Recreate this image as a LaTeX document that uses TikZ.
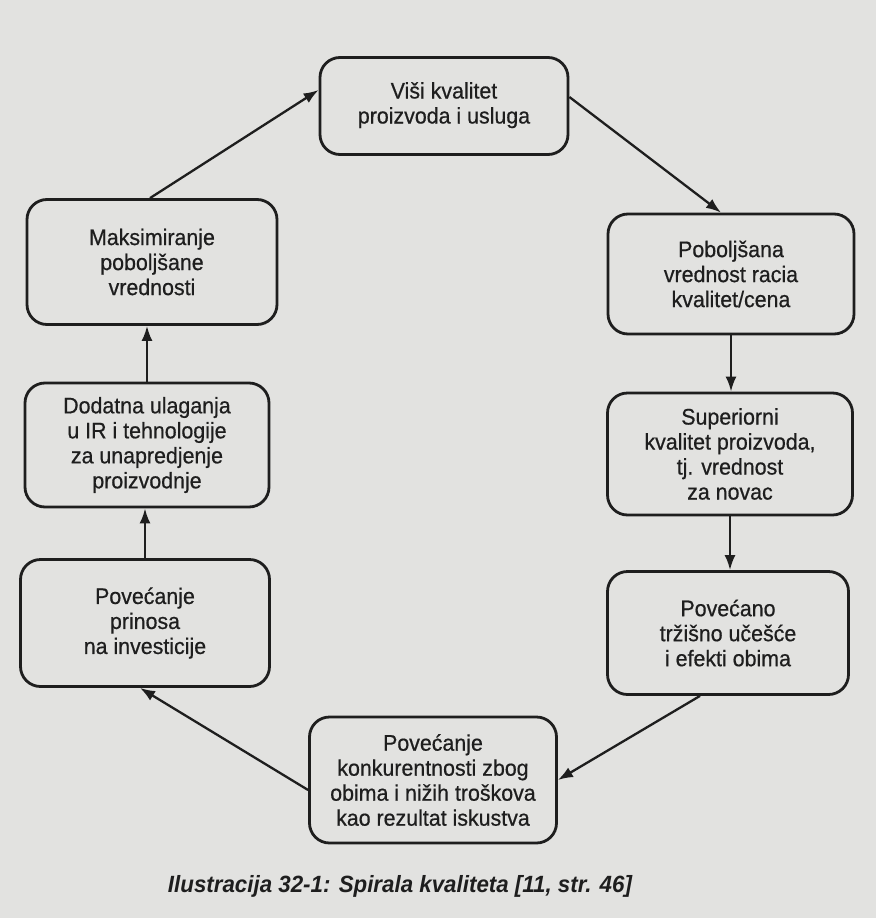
\documentclass[tikz,border=0pt]{standalone}
\usepackage{fontspec}
\setmainfont{Liberation Sans}
\newfontfamily\boxfont[FakeStretch=0.95,FakeBold=0.6]{Liberation Sans}
\newfontfamily\capfont[FakeStretch=0.95]{Liberation Sans}
\usetikzlibrary{arrows.meta}
\definecolor{paper}{RGB}{226,226,224}
\definecolor{ink}{RGB}{30,30,30}
\tikzset{
  stage/.style={draw=ink, line width=2.8pt, rounded corners=20pt, fill=paper,
    align=center, inner sep=4pt, text=ink,
    font=\boxfont\fontsize{22.5}{25}\selectfont},
  link/.style={draw=ink, line width=2.3pt, -{Latex[length=15pt,width=11pt]}}
}
\begin{document}
\begin{tikzpicture}[x=1pt,y=-1pt]
\fill[paper] (0,0) rectangle (876,918);
\useasboundingbox (0,0) rectangle (876,918);
\node[stage, minimum width=248pt, minimum height=97pt] (top) at (444,106) {\raisebox{-8pt}{\begin{tabular}{@{}c@{}}Viši kvalitet\\proizvoda i usluga\end{tabular}}};
\node[stage, minimum width=246pt, minimum height=120pt] (r1) at (731,274) {Poboljšana\\vrednost racia\\kvalitet/cena};
\node[stage, minimum width=245pt, minimum height=122pt] (r2) at (730,454) {Superiorni\\kvalitet proizvoda,\\tj. vrednost\\za novac};
\node[stage, minimum width=241pt, minimum height=123pt] (r3) at (728,633) {Povećano\\tržišno učešće\\i efekti obima};
\node[stage, minimum width=247pt, minimum height=126pt] (bot) at (433,780) {Povećanje\\konkurentnosti zbog\\obima i nižih troškova\\kao rezultat iskustva};
\node[stage, minimum width=249pt, minimum height=127pt] (l3) at (145,623) {Povećanje\\prinosa\\na investicije};
\node[stage, minimum width=244pt, minimum height=124pt] (l2) at (147,445) {Dodatna ulaganja\\u IR i tehnologije\\za unapredjenje\\proizvodnje};
\node[stage, minimum width=250pt, minimum height=125pt] (l1) at (152,262) {Maksimiranje\\poboljšane\\vrednosti};
\node[text=ink, font=\capfont\bfseries\itshape\fontsize{23.5}{26}\selectfont] (cap) at (400,886) {Ilustracija 32-1: Spirala kvaliteta [11, str. 46]};
\draw[link] ([xshift=-2pt]l1.north) -- ([yshift=16pt]top.west);
\draw[link] ([yshift=9pt]top.east) -- ([xshift=-10pt]r1.north);
\draw[link] (r1.south) -- (r1.south |- r2.north);
\draw[link] (r2.south) -- (r2.south |- r3.north);
\draw[link] ([xshift=-28pt]r3.south) -- ([yshift=0pt]bot.east);
\draw[link] ([yshift=-10pt]bot.west) -- ([xshift=-5pt]l3.south);
\draw[link] (l3.north) -- (l3.north |- l2.south);
\draw[link] (l2.north) -- (l2.north |- l1.south);
\end{tikzpicture}
\end{document}
